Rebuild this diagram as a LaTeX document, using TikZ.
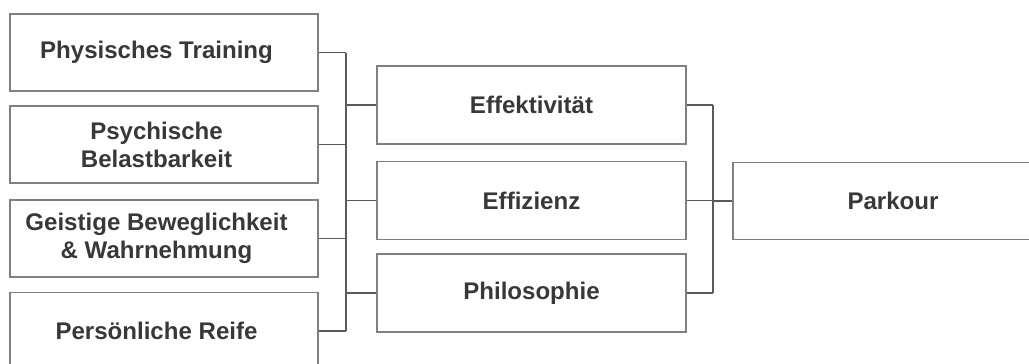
\documentclass[tikz,border=0pt]{standalone}
\usepackage{fontspec}
\setmainfont{Liberation Sans}
\usepackage{xcolor}
\usetikzlibrary{positioning}
\definecolor{boxline}{HTML}{808080}
\definecolor{wireline}{HTML}{5A5A5A}
\definecolor{labeltext}{HTML}{383838}

\begin{document}
\begin{tikzpicture}[x=0.02cm, y=-0.02cm,
    factor/.style={draw=boxline, line width=0.8pt, minimum width=6.16cm, minimum height=1.54cm,
      align=center, text=labeltext, font=\fontsize{13.7}{16}\selectfont\bfseries, inner sep=0pt},
    inset/.style={align=center, text=labeltext, font=\fontsize{13.7}{16}\selectfont\bfseries,
      inner sep=0pt, xshift=-0.15cm},
    wire/.style={draw=wireline, line width=0.8pt}]
  % ---- frame (the source image is cropped at right and bottom) ----
  \useasboundingbox (0,0) rectangle (1029,363);
  \clip (0,0) rectangle (1029,363);

  % ---- LEFT: the four factors (text sits a little left of centre) ----
  \node[factor, label={[inset]center:{Physisches Training}}] (phys) at (164,52.5) {};
  \node[factor, label={[inset]center:{Psychische\\Belastbarkeit}}] (psych) at (164,144.5) {};
  \node[factor, label={[inset]center:{Geistige Beweglichkeit\\\& Wahrnehmung}}] (geist) at (164,238.5) {};
  \node[factor, label={[inset]center:{Persönliche Reife}}] (reife) at (164,331) {};

  % ---- MIDDLE: the three principles ----
  \node[factor, minimum width=6.18cm, minimum height=1.56cm] (effekt) at (531.5,105)   {Effektivität};
  \node[factor, minimum width=6.18cm, minimum height=1.56cm] (effiz)  at (531.5,200.5) {Effizienz};
  \node[factor, minimum width=6.18cm, minimum height=1.56cm] (philo)  at (531.5,293)   {Philosophie};

  % ---- RIGHT: Parkour ----
  \node[factor, minimum width=6.4cm] (parkour) at (893,201) {Parkour};

  % Buses between the columns
  \coordinate (lbus) at (346,0);
  \coordinate (rbus) at (713,0);

  % left column into the first bus
  \foreach \n in {phys,psych,geist,reife} {
    \draw[wire] (\n.east) -- (\n.east -| lbus);
  }
  \draw[wire] (phys.east -| lbus) -- (reife.east -| lbus);
  \foreach \n in {effekt,effiz,philo} {
    \draw[wire] (lbus |- \n.west) -- (\n.west);
  }

  % middle column into the second bus
  \foreach \n in {effekt,effiz,philo} {
    \draw[wire] (\n.east) -- (\n.east -| rbus);
  }
  \draw[wire] (effekt.east -| rbus) -- (philo.east -| rbus);
  \draw[wire] (rbus |- parkour.west) -- (parkour.west);
\end{tikzpicture}
\end{document}
